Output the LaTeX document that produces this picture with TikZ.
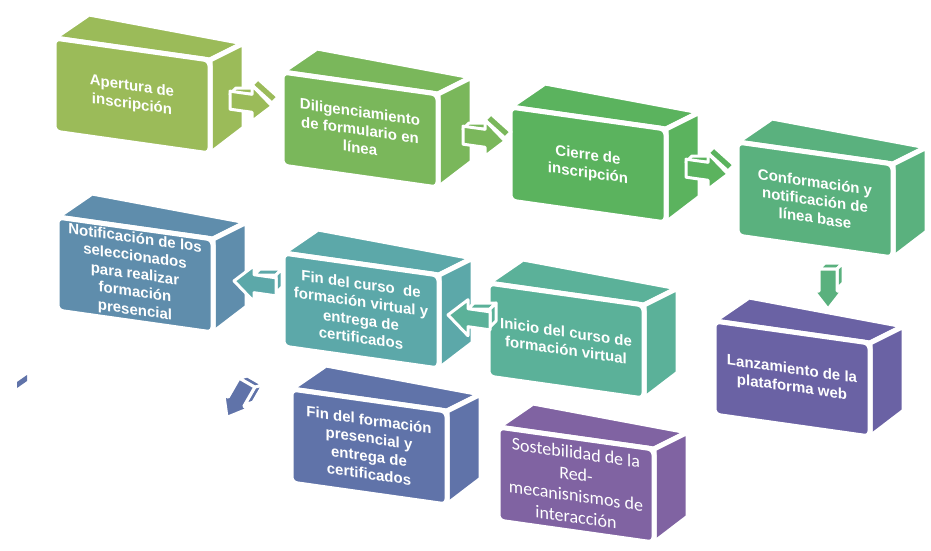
\documentclass[tikz,border=0pt]{standalone}
\usepackage{fontspec}
\setmainfont{Liberation Sans}
\newfontfamily\softfont{Carlito}
\definecolor{cApertura}{HTML}{9BBB59}
\definecolor{cDiligencia}{HTML}{7AB75B}
\definecolor{cCierre}{HTML}{5BB35E}
\definecolor{cConforma}{HTML}{5AB17E}
\definecolor{cNotifica}{HTML}{5F8DAC}
\definecolor{cFinCurso}{HTML}{5CA8A9}
\definecolor{cLanza}{HTML}{6A62A4}
\definecolor{cInicio}{HTML}{5BB199}
\definecolor{cFinPres}{HTML}{6073A9}
\definecolor{cSostenib}{HTML}{8063A2}
\begin{document}
\begin{tikzpicture}[x=1pt, y=-1pt,
	face/.style={draw=white, line width=5pt, line join=round},
	arrowface/.style={draw=white, line width=3pt, line join=round},
	boxtext/.style={text=white, font=\bfseries\fontsize{15}{18}\selectfont, align=center, inner sep=0pt, transform shape},
	softtext/.style={text=white, font=\softfont\fontsize{18}{21.5}\selectfont, align=center, inner sep=0pt, transform shape},
	pics/cube/.style n args={4}{code={
		\fill[#1, face] (0,0) -- (35,-24) -- (190,5) -- (156,22) -- cycle;
		\fill[#1, face] (156,22) -- (190,5) -- (190,90) -- (156,116) -- cycle;
		\begin{scope}[yslant=-0.141]
			\fill[#1, face, rounded corners=6pt] (0,0) rectangle (156,94);
			\node[#4] (#2) at (78,47) {#3};
		\end{scope}
	}},
	pics/rarrow/.style={code={
		\fill[#1, arrowface] (-20,-9) -- (-14,-15) -- (8,-15) -- (2,-9) -- cycle;
		\fill[#1, arrowface] (2,-18) -- (8,-24) -- (28,-6) -- (22,0) -- cycle;
		\begin{scope}[yslant=-0.141]
			\fill[#1, arrowface] (-20,-9) -- (2,-9) -- (2,-18) -- (22,0) -- (2,18) -- (2,9) -- (-20,9) -- cycle;
		\end{scope}
	}},
	pics/larrow/.style={code={
		\fill[#1, arrowface] (-2,-9) -- (4,-15) -- (26,-15) -- (20,-9) -- cycle;
		\fill[#1, arrowface] (20,-9) -- (26,-15) -- (26,3) -- (20,9) -- cycle;
		\begin{scope}[yslant=-0.141]
			\fill[#1, arrowface] (20,-9) -- (-2,-9) -- (-2,-18) -- (-22,0) -- (-2,18) -- (-2,9) -- (20,9) -- cycle;
		\end{scope}
	}},
	pics/darrow/.style={code={
		\fill[#1, arrowface] (-9,-20) -- (-3,-26) -- (15,-26) -- (9,-20) -- cycle;
		\fill[#1, arrowface] (9,-20) -- (15,-26) -- (15,-6) -- (9,0) -- cycle;
		\fill[#1, arrowface] (-9,-20) -- (9,-20) -- (9,2) -- (14,2) -- (0,20) -- (-14,2) -- (-9,2) -- cycle;
	}}]
\useasboundingbox (0,0) rectangle (931,550);

% first row
\pic at (54,38) {cube={cApertura}{apertura}{Apertura de\\inscripción}{boxtext}};
\pic at (282,72) {cube={cDiligencia}{diligencia}{Diligenciamiento\\de formulario en\\línea}{boxtext}};
\pic at (510,107) {cube={cCierre}{cierre}{Cierre de\\inscripción}{boxtext}};
\pic at (737,142) {cube={cConforma}{conforma}{Conformación y\\notificación de\\línea base}{boxtext}};

% second row
\pic at (57,217) {cube={cNotifica}{notifica}{Notificación de los\\seleccionados\\para realizar\\formación\\presencial}{boxtext}};
\pic at (283,253) {cube={cFinCurso}{fincurso}{Fin del curso~ de\\formación virtual y\\entrega de\\certificados}{boxtext}};
\pic at (488,283) {cube={cInicio}{inicio}{Inicio del curso de\\formación virtual}{boxtext}};
\pic at (714,321) {cube={cLanza}{lanza}{Lanzamiento de la\\plataforma web}{boxtext}};

% third row
\pic at (291,389) {cube={cFinPres}{finpres}{Fin del formación\\presencial y\\entrega de\\certificados}{boxtext}};
\pic at (498,427) {cube={cSostenib}{sostenib}{Sostebilidad de la\\Red-\\mecanisnismos de\\interacción}{softtext}};

% arrows
\pic at (250,103) {rarrow=cApertura};
\pic at (483,138) {rarrow=cDiligencia};
\pic at (706,171) {rarrow=cCierre};
\pic at (828,289) {darrow=cConforma};
\pic at (470,318) {larrow=cInicio};
\pic at (256,284) {larrow=cFinCurso};
\pic[rotate=-30] at (237,400) {darrow=cFinPres};
\fill[cFinPres] (17,388) -- (17,382) -- (27,375) -- (27,381) -- cycle;
\end{tikzpicture}
\end{document}
